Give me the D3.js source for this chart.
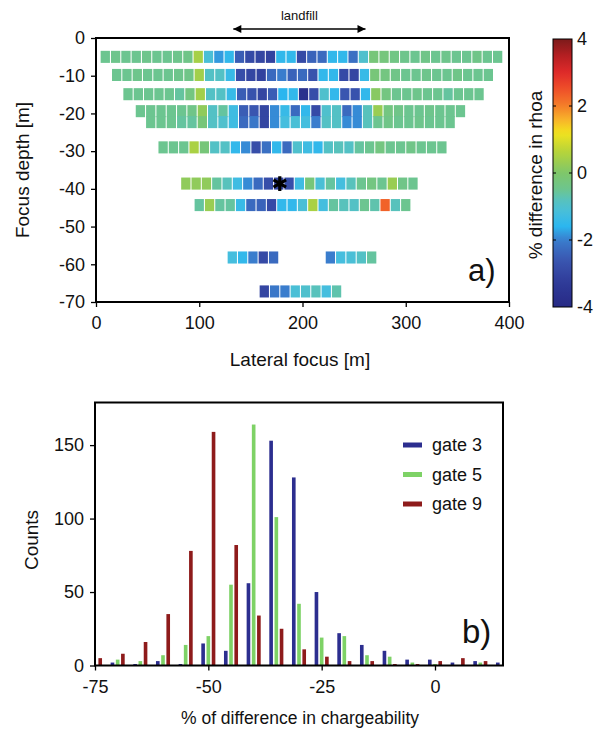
<!DOCTYPE html>
<html><head><meta charset="utf-8">
<script src="https://cdn.jsdelivr.net/npm/d3@7"></script>
<style>
html,body{margin:0;padding:0;background:#fff;}
svg{display:block;font-family:"Liberation Sans",Arial,Helvetica,sans-serif;}
</style></head><body>
<svg id="chart" width="598" height="740"></svg>
<script>
// ---------- panel a: apparent-resistivity change at each focus point ----------
const rowDepth = [-5, -9.8, -14.9, -19.4, -22.3, -29, -38.6, -44.3, -58.2, -58.2, -67.2];
const rowStart = [9, 20, 31, 43, 53, 65, 87, 100, 132, 227, 163];
const lateralStep = 10;
const rowValues = [
  [-0.5,-0.45,-0.5,-0.5,-0.45,-0.5,-0.5,-0.45,-0.4,0.45,-1.1,-1.8,-1.5,-2.5,-2.9,-3.0,-3.1,-1.5,-1.5,-2.9,-2.4,-2.3,-1.5,-1.5,-2.2,-1.0,-0.2,-0.25,-0.35,-0.45,-0.5,-0.4,-0.5,-0.45,-0.5,-0.5,-0.4,-0.5,-0.5],
  [-0.5,-0.5,-0.45,-0.5,-0.5,-0.5,-0.45,-0.4,0.4,-0.9,-0.9,-1.4,-2.8,-3.0,-3.1,-2.3,-2.0,-2.4,-2.3,-2.7,-1.5,-1.5,-2.9,-3.0,-1.4,-0.2,-0.3,-0.4,-0.5,-0.5,-0.45,-0.5,-0.5,-0.4,-0.5,-0.5,-0.5],
  [-0.5,-0.5,-0.5,-0.5,-0.5,-0.6,-0.3,0.4,-0.9,-0.9,-1.4,-2.5,-2.7,-3.0,-2.5,-1.6,-1.5,-3.7,-2.8,-1.0,-1.5,-2.6,-2.7,-1.5,0.1,-0.3,-0.5,-0.5,-0.45,-0.5,-0.5,-0.6,-0.5,-0.5,-0.5],
  [-0.5,-0.5,-0.5,-0.5,-0.5,-0.4,0.2,-0.9,-0.6,-1.3,-2.5,-2.6,-3.0,-1.9,-1.4,-2.3,-1.5,-2.9,-1.0,-0.9,-2.3,-1.9,-0.8,0.3,-0.3,-0.4,-0.5,-0.5,-0.45,-0.5,-0.5,-0.5],
  [-0.5,-0.5,-0.5,-0.6,-0.6,-0.2,-0.9,-1.0,-1.3,-2.3,-2.1,-3.0,-1.9,-1.2,-1.1,-1.2,-2.0,-0.9,-0.9,-1.9,-1.9,-0.8,-0.5,-0.4,-0.5,-0.5,-0.45,-0.5,-0.5,-0.5],
  [-0.5,-0.5,-0.5,0.5,-0.2,-0.9,-0.9,-1.5,-1.9,-2.8,-2.2,-1.5,-2.3,-1.0,-1.3,-1.5,-0.9,-0.8,-0.9,-0.6,-0.5,-0.3,-0.5,-0.5,-0.4,-0.5,-0.5,-0.5],
  [0.2,0.2,0.2,-0.6,-0.8,-1.3,-1.9,-2.3,-2.8,-3.0,-2.8,-1.3,-0.2,-1.1,-0.6,-1.2,-0.8,-0.5,-0.3,-0.5,0.3,-0.4,-0.5],
  [-0.6,0.3,-0.6,-0.6,-1.4,-2.3,-2.4,-2.9,-1.5,-1.5,-1.1,0.5,-1.2,-0.6,-0.8,-0.9,-0.5,-0.7,2.3,-0.8,-0.5],
  [-1.2,-1.5,-2.0,-2.9,-2.3],
  [-2.0,-1.2,-1.1,-0.9,-0.6],
  [-3.0,-2.1,-2.0,-1.1,-1.0,-0.8,-1.2,-0.7]
];
const landfillExtent = [133, 261];
const starPoint = [178, -38.6];
const depthTicks = [0, -10, -20, -30, -40, -50, -60, -70];
const lateralTicks = [0, 100, 200, 300, 400];
const colorTicks = [4, 2, 0, -2, -4];
const colorStops = [-4, -3.3, -2.6, -2, -1.6, -1.2, -0.8, -0.5, 0, 0.6, 1.2, 1.6, 2, 2.5, 3, 3.5, 4];
const colorRamp = ["#272a85","#2f3a98","#3a56b0","#3a7dcd","#2bb6ef","#45bede","#58c2bc","#6cc590","#7fc76a",
                   "#b3d33c","#f2e31e","#f8b22a","#f47f29","#ef4f29","#df2a2a","#b51f22","#7c1a1a"];

// ---------- panel b: histogram of chargeability change per gate ----------
const bins  = [-75,-70,-65,-60,-55,-50,-45,-40,-35,-30,-25,-20,-15,-10,-5,0,5,10,15];
const gate3 = [0, 2, 1, 3, 1, 15, 10, 56, 153, 128, 50, 22, 14, 10, 4, 4, 2, 3, 2];
const gate5 = [0, 4, 3, 7, 14, 20, 55, 164, 101, 42, 19, 20, 7, 6, 2, 1, 0, 2, 0];
const gate9 = [5, 8, 16, 35, 78, 159, 82, 34, 25, 11, 6, 3, 3, 1, 1, 3, 5, 3, 0];
const gateNames = ["gate 3", "gate 5", "gate 9"];
const gateColors = ["#2c2e8f", "#7ed266", "#8e1b1b"];
const countTicks = [0, 50, 100, 150];
const diffTicks = [-75, -50, -25, 0];

const svg = d3.select("#chart");
const TICK_FONT = 18;
const TITLE_FONT = 19;

// ======================= panel a =======================
const ax = {l: 96, r: 509, t: 38, b: 302};
const x = d3.scaleLinear().domain([0, 400]).range([ax.l, ax.r]);
const y = d3.scaleLinear().domain([-70, 0]).range([ax.b, ax.t]);
const color = d3.scaleLinear().domain(colorStops).range(colorRamp).clamp(true);

const cellW = x(9) - x(0);
const cellH = y(0) - y(3.2);

const pa = svg.append("g");
const cells = [];
rowValues.forEach((vals, r) => {
  vals.forEach((v, i) => cells.push({lat: rowStart[r] + i * lateralStep, depth: rowDepth[r], v}));
});
pa.append("g").selectAll("rect").data(cells).join("rect")
  .attr("x", d => x(d.lat) - cellW / 2)
  .attr("y", d => y(d.depth) - cellH / 2)
  .attr("width", cellW)
  .attr("height", cellH)
  .attr("fill", d => color(d.v));

// marker at the central focus point
pa.append("path")
  .attr("d", d3.symbol(d3.symbolAsterisk, 150)())
  .attr("transform", `translate(${x(starPoint[0])},${y(starPoint[1])})`)
  .attr("stroke", "#000").attr("stroke-width", 3.2).attr("fill", "none");

// axes
const axA = pa.append("g").attr("transform", `translate(${ax.l},0)`)
  .call(d3.axisLeft(y).tickValues(depthTicks).tickSize(5).tickPadding(6).tickFormat(d3.format("d")));
const axB = pa.append("g").attr("transform", `translate(0,${ax.b})`)
  .call(d3.axisBottom(x).tickValues(lateralTicks).tickSize(5).tickPadding(9).tickFormat(d3.format("d")));
[axA, axB].forEach(g => {
  g.select(".domain").remove();
  g.selectAll("line").attr("stroke", "#000").attr("stroke-width", 1.3);
  g.selectAll("text").attr("font-size", TICK_FONT).attr("fill", "#111").attr("font-family", "Liberation Sans, Arial, sans-serif");
});
axA.selectAll("text").text(d => d === 0 ? "0" : "-" + Math.abs(d));
pa.append("rect").attr("x", ax.l).attr("y", ax.t).attr("width", ax.r - ax.l).attr("height", ax.b - ax.t)
  .attr("fill", "none").attr("stroke", "#000").attr("stroke-width", 2);

// landfill extent arrow
const defs = svg.append("defs");
["start", "end"].forEach(k => {
  defs.append("marker").attr("id", "arr-" + k)
    .attr("viewBox", "0 0 10 10").attr("refX", k === "end" ? 10 : 0).attr("refY", 5)
    .attr("markerWidth", 10).attr("markerHeight", 8).attr("markerUnits", "userSpaceOnUse")
    .attr("orient", "auto")
    .append("path").attr("d", k === "end" ? "M0,0L10,5L0,10Z" : "M10,0L0,5L10,10Z").attr("fill", "#000");
});
pa.append("line")
  .attr("x1", x(landfillExtent[0])).attr("x2", x(landfillExtent[1]))
  .attr("y1", 29).attr("y2", 29)
  .attr("stroke", "#000").attr("stroke-width", 1.5)
  .attr("marker-start", "url(#arr-start)").attr("marker-end", "url(#arr-end)");
pa.append("text").attr("x", x((landfillExtent[0] + landfillExtent[1]) / 2)).attr("y", 20)
  .attr("text-anchor", "middle").attr("font-size", 13).attr("fill", "#111").text("landfill");

pa.append("text").attr("transform", "translate(22,170) rotate(-90)")
  .attr("text-anchor", "middle").attr("dominant-baseline", "central")
  .attr("font-size", TITLE_FONT).attr("fill", "#111").text("Focus depth [m]");
pa.append("text").attr("x", 300).attr("y", 366).attr("text-anchor", "middle")
  .attr("font-size", TITLE_FONT).attr("fill", "#111").text("Lateral focus [m]");
pa.append("text").attr("x", 468).attr("y", 281).attr("font-size", 31).attr("fill", "#111").text("a)");

// colour bar
const cb = {x: 553, w: 19};
const cy = d3.scaleLinear().domain([-4, 4]).range([307, 39]);
const grad = defs.append("linearGradient").attr("id", "cbar")
  .attr("x1", 0).attr("x2", 0).attr("y1", 1).attr("y2", 0);
d3.range(0, 1.0001, 0.02).forEach(t => {
  grad.append("stop").attr("offset", t).attr("stop-color", color(-4 + 8 * t));
});
pa.append("rect").attr("x", cb.x).attr("y", cy(4)).attr("width", cb.w).attr("height", cy(-4) - cy(4))
  .attr("fill", "url(#cbar)").attr("stroke", "#000").attr("stroke-width", 1);
colorTicks.forEach(t => {
  if (Math.abs(t) < 4) {
    pa.append("line").attr("x1", cb.x).attr("x2", cb.x + 3).attr("y1", cy(t)).attr("y2", cy(t)).attr("stroke", "#000");
    pa.append("line").attr("x1", cb.x + cb.w - 3).attr("x2", cb.x + cb.w).attr("y1", cy(t)).attr("y2", cy(t)).attr("stroke", "#000");
  }
  pa.append("text").attr("x", cb.x + cb.w + 5).attr("y", cy(t)).attr("dominant-baseline", "central")
    .attr("font-size", TICK_FONT).attr("fill", "#111").text(t < 0 ? "-" + Math.abs(t) : String(t));
});
pa.append("text").attr("transform", "translate(535,175) rotate(-90)")
  .attr("text-anchor", "middle").attr("dominant-baseline", "central")
  .attr("font-size", TITLE_FONT).attr("fill", "#111").text("% difference in rhoa");

// ======================= panel b =======================
const bx = {l: 95, r: 503, t: 402.5, b: 665.5};
const hx = d3.scaleLinear().domain([-75, 15]).range([bx.l, bx.r]);
const hy = d3.scaleLinear().domain([0, 179]).range([bx.b, bx.t]);
const pb = svg.append("g");
defs.append("clipPath").attr("id", "clipb").append("rect")
  .attr("x", bx.l).attr("y", bx.t).attr("width", bx.r - bx.l).attr("height", bx.b - bx.t);

const series = [gate3, gate5, gate9];
const offsets = [-1.15, 0, 1.15];
const barW = hx(0.8) - hx(0);
const bars = [];
series.forEach((s, k) => s.forEach((c, i) => bars.push({k, c, b: bins[i]})));
pb.append("g").attr("clip-path", "url(#clipb)").selectAll("rect").data(bars.filter(d => d.c > 0)).join("rect")
  .attr("x", d => hx(d.b + offsets[d.k]) - barW / 2)
  .attr("y", d => hy(d.c))
  .attr("width", barW)
  .attr("height", d => hy(0) - hy(d.c))
  .attr("fill", d => gateColors[d.k]);

const bA = pb.append("g").attr("transform", `translate(${bx.l},0)`)
  .call(d3.axisLeft(hy).tickValues(countTicks).tickSize(5).tickPadding(6));
const bB = pb.append("g").attr("transform", `translate(0,${bx.b})`)
  .call(d3.axisBottom(hx).tickValues(diffTicks).tickSize(5).tickPadding(10));
[bA, bB].forEach(g => {
  g.select(".domain").remove();
  g.selectAll("line").attr("stroke", "#000").attr("stroke-width", 1.3);
  g.selectAll("text").attr("font-size", TICK_FONT).attr("fill", "#111").attr("font-family", "Liberation Sans, Arial, sans-serif");
});
bB.selectAll("text").text(d => d < 0 ? "-" + Math.abs(d) : String(d));
pb.append("rect").attr("x", bx.l).attr("y", bx.t).attr("width", bx.r - bx.l).attr("height", bx.b - bx.t)
  .attr("fill", "none").attr("stroke", "#000").attr("stroke-width", 2);

// legend
gateNames.forEach((n, k) => {
  const ly = 445 + k * 29.5;
  pb.append("line").attr("x1", 403).attr("x2", 422).attr("y1", ly).attr("y2", ly)
    .attr("stroke", gateColors[k]).attr("stroke-width", 5);
  pb.append("text").attr("x", 432).attr("y", ly).attr("dominant-baseline", "central")
    .attr("font-size", TICK_FONT).attr("fill", "#111").text(n);
});

pb.append("text").attr("transform", "translate(31,540) rotate(-90)")
  .attr("text-anchor", "middle").attr("dominant-baseline", "central")
  .attr("font-size", TITLE_FONT).attr("fill", "#111").text("Counts");
pb.append("text").attr("x", 300).attr("y", 724).attr("text-anchor", "middle")
  .attr("font-size", 17.5).attr("fill", "#111").text("% of difference in chargeability");
pb.append("text").attr("x", 462).attr("y", 643).attr("font-size", 33).attr("fill", "#111").text("b)");
</script></body></html>
